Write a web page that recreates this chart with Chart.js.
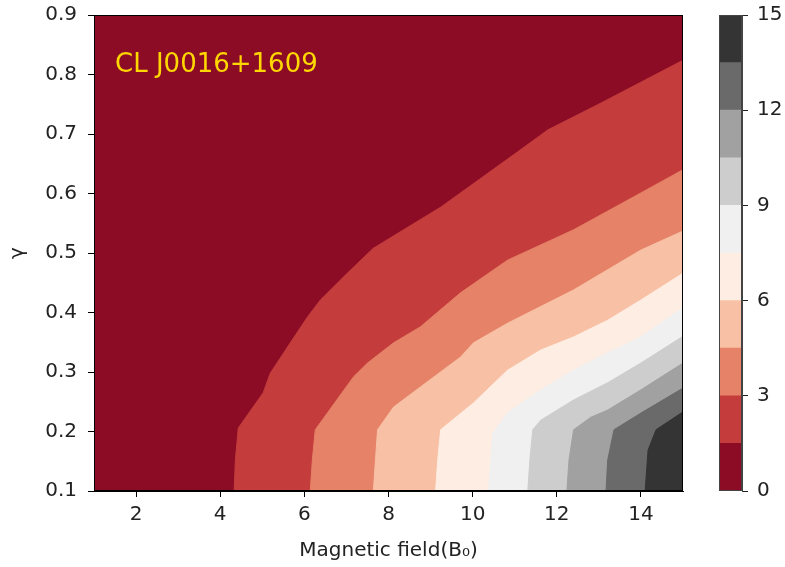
<!DOCTYPE html>
<html>
<head>
<meta charset="utf-8">
<script src="https://cdn.jsdelivr.net/npm/chart.js@4.4.1/dist/chart.umd.min.js"></script>
<style>
  body { margin: 0; background: #fff; }
  #wrap { position: relative; width: 785px; height: 567px; }
  canvas { position: absolute; top: 0; }
  #main { left: 0; }
  #bar { left: 700px; }
</style>
</head>
<body>
<div id="wrap">
  <canvas id="main" width="785" height="567"></canvas>
  <canvas id="bar" width="85" height="567"></canvas>
</div>
<script>
// niveaux du contourf (0 a 15, pas de 1.5)
const levels = [0, 1.5, 3, 4.5, 6, 7.5, 9, 10.5, 12, 13.5, 15];
const levelColors = ["#8c0c25", "#c43c3c", "#e58267", "#f8c0a4", "#feede3",
  "#f0f0f0", "#cdcdcd", "#a1a1a1", "#6a6a6a", "#343434"];

// frontieres des niveaux: B0 (x) et gamma (y)
const b1x = [4.33, 4.36, 4.43, 5.02, 5.19, 5.60, 6.07, 6.38, 7.02, 7.64, 9.24, 11.07, 11.79, 13.05, 15];
const b1y = [0.10, 0.152, 0.206, 0.265, 0.298, 0.342, 0.392, 0.421, 0.466, 0.508, 0.577, 0.670, 0.707, 0.752, 0.824];
const b2x = [6.14, 6.19, 6.26, 7.17, 7.50, 8.12, 8.76, 9.71, 10.83, 12.40, 14.0, 15];
const b2y = [0.10, 0.152, 0.203, 0.292, 0.315, 0.349, 0.376, 0.433, 0.488, 0.539, 0.601, 0.640];
const b3x = [7.64, 7.69, 7.74, 8.12, 8.76, 9.71, 10.02, 10.83, 12.40, 14.0, 15];
const b3y = [0.10, 0.152, 0.203, 0.241, 0.275, 0.325, 0.349, 0.382, 0.438, 0.505, 0.537];
const b4x = [9.12, 9.17, 9.24, 10.02, 10.83, 11.62, 12.40, 13.21, 14.0, 15];
const b4y = [0.10, 0.152, 0.203, 0.248, 0.303, 0.337, 0.359, 0.387, 0.421, 0.466];
const b5x = [10.38, 10.43, 10.48, 10.83, 11.62, 12.40, 13.21, 14.0, 15];
const b5y = [0.10, 0.152, 0.197, 0.231, 0.270, 0.303, 0.332, 0.359, 0.408];
const b6x = [11.31, 11.36, 11.43, 11.62, 12.40, 13.21, 14.0, 15];
const b6y = [0.10, 0.152, 0.203, 0.219, 0.253, 0.282, 0.315, 0.360];
const b7x = [12.24, 12.29, 12.40, 12.81, 13.21, 14.0, 15];
const b7y = [0.10, 0.152, 0.203, 0.224, 0.236, 0.270, 0.315];
const b8x = [13.17, 13.21, 13.36, 14.0, 15];
const b8y = [0.10, 0.152, 0.203, 0.231, 0.273];
const b9x = [14.10, 14.17, 14.36, 15];
const b9y = [0.10, 0.169, 0.203, 0.233];

const xTicks = [2, 4, 6, 8, 10, 12, 14];
const yTicks = [0.1, 0.2, 0.3, 0.4, 0.5, 0.6, 0.7, 0.8, 0.9];
const cbTicks = [0, 3, 6, 9, 12, 15];
const label = "CL J0016+1609";

const font = { family: "DejaVu Sans", size: 20 };
const txt = "#222";

// fond = niveau le plus bas, couvre tout le domaine
const bgX = [1, 15];
const bgY = [0.9, 0.9];
const bounds = [[bgX, bgY], [b1x, b1y], [b2x, b2y], [b3x, b3y], [b4x, b4y],
  [b5x, b5y], [b6x, b6y], [b7x, b7y], [b8x, b8y], [b9x, b9y]];

const datasets = bounds.map((b, i) => ({
  data: b[0].map((x, j) => ({ x: x, y: b[1][j] })),
  backgroundColor: levelColors[i],
  borderColor: levelColors[i],
  borderWidth: 1,
  pointRadius: 0,
  fill: "start",
  order: bounds.length - i,
}));

// pas de marge auto pour les etiquettes qui debordent
function noPad(s) {
  s.paddingTop = 0;
  s.paddingBottom = 0;
  s.paddingLeft = 0;
  s.paddingRight = 0;
}

const frame = {
  id: "frame",
  afterDatasetsDraw(chart) {
    const a = chart.chartArea;
    const ctx = chart.ctx;
    ctx.save();
    ctx.strokeStyle = chart.canvas.id === "main" ? "#000" : "#444";
    ctx.lineWidth = 1;
    ctx.strokeRect(a.left + 0.5, a.top + 0.5, a.right - a.left - 1, a.bottom - a.top - 1);
    if (chart.canvas.id === "main") {
      const xs = chart.scales.x, ys = chart.scales.y;
      ctx.font = "26px 'DejaVu Sans'";
      ctx.fillStyle = "#ffd700";
      ctx.textBaseline = "middle";
      ctx.fillText(label, xs.getPixelForValue(1.5), ys.getPixelForValue(0.815));
    }
    ctx.restore();
  },
};

new Chart(document.getElementById("main"), {
  type: "line",
  data: { datasets: datasets },
  options: {
    responsive: false,
    animation: false,
    layout: { padding: { left: 0, right: 102, top: 15, bottom: 0 } },
    plugins: { legend: { display: false }, tooltip: { enabled: false } },
    scales: {
      x: {
        type: "linear",
        min: 1,
        max: 15,
        afterBuildTicks: (s) => { s.ticks = xTicks.map((v) => ({ value: v })); },
        afterFit: (s) => { s.height = 76; noPad(s); },
        grid: { drawOnChartArea: false, color: "#000", tickLength: 6 },
        border: { color: "#000" },
        ticks: { font: font, color: txt, padding: 6, autoSkip: false, maxRotation: 0 },
        title: { display: true, text: "Magnetic field(B\u2080)", font: font, color: txt, padding: { top: 2, bottom: 4 } },
      },
      y: {
        type: "linear",
        min: 0.1,
        max: 0.9,
        afterBuildTicks: (s) => { s.ticks = yTicks.map((v) => ({ value: v })); },
        afterFit: (s) => { s.width = 94; noPad(s); },
        grid: { drawOnChartArea: false, color: "#000", tickLength: 6 },
        border: { color: "#000" },
        ticks: { font: font, color: txt, padding: 11, autoSkip: false, callback: (v) => v.toFixed(1) },
        title: { display: true, text: "\u03b3", font: font, color: txt, padding: 6 },
      },
    },
  },
  plugins: [frame],
});

// barre de couleurs
new Chart(document.getElementById("bar"), {
  type: "bar",
  data: {
    labels: [""],
    datasets: levelColors.map((c, i) => ({
      data: [levels[i + 1] - levels[i]],
      backgroundColor: c,
      borderWidth: 0,
      barPercentage: 1,
      categoryPercentage: 1,
    })),
  },
  options: {
    responsive: false,
    animation: false,
    layout: { padding: { left: 19, right: 0, top: 15, bottom: 76 } },
    plugins: { legend: { display: false }, tooltip: { enabled: false } },
    scales: {
      x: { display: false, stacked: true },
      y: {
        position: "right",
        stacked: true,
        min: 0,
        max: 15,
        afterBuildTicks: (s) => { s.ticks = cbTicks.map((v) => ({ value: v })); },
        afterFit: (s) => { s.width = 43; noPad(s); },
        grid: { drawOnChartArea: false, color: "#222", tickLength: 6 },
        border: { color: "#444" },
        ticks: { font: font, color: txt, padding: 9 },
      },
    },
  },
  plugins: [frame],
});
</script>
</body>
</html>
